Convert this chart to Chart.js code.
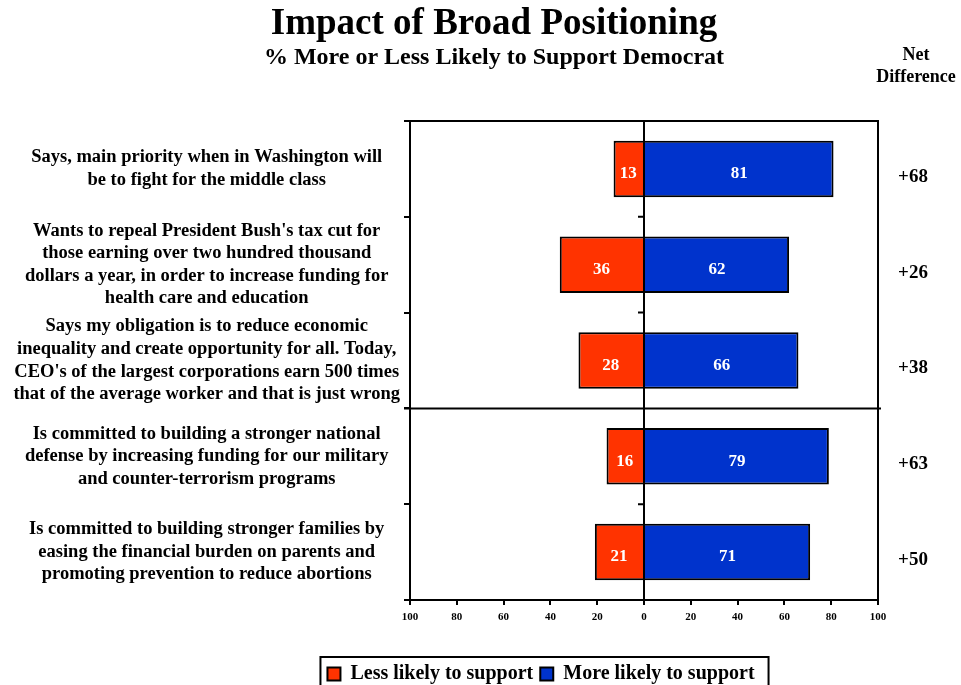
<!DOCTYPE html>
<html>
<head>
<meta charset="utf-8">
<script src="https://cdn.jsdelivr.net/npm/chart.js@4/dist/chart.umd.min.js"></script>
<style>
  html, body { margin: 0; padding: 0; background: #fff; }
  #wrap { width: 961px; height: 685px; position: relative; }
</style>
</head>
<body>
<div id="wrap"><canvas id="chart"></canvas></div>
<script>
const statements = [
  ["Says, main priority when in Washington will", "be to fight for the middle class"],
  ["Wants to repeal President Bush's tax cut for", "those earning over two hundred thousand", "dollars a year, in order to increase funding for", "health care and education"],
  ["Says my obligation is to reduce economic", "inequality and create opportunity for all. Today,", "CEO's of the largest corporations earn 500 times", "that of the average worker and that is just wrong"],
  ["Is committed to building a stronger national", "defense by increasing funding for our military", "and counter-terrorism programs"],
  ["Is committed to building stronger families by", "easing the financial burden on parents and", "promoting prevention to reduce abortions"]
];
const lessLikely = [13, 36, 28, 16, 21];
const moreLikely = [81, 62, 66, 79, 71];
const seriesNames = ["Less likely to support", "More likely to support"];

const serif = "'Liberation Serif', 'Times New Roman', serif";
Chart.defaults.font.family = serif;
Chart.defaults.font.weight = "bold";
Chart.defaults.color = "#000";

const ctx = document.getElementById("chart").getContext("2d");

const extras = {
  id: "extras",
  afterLayout(chart) {
    // put the legend under the middle of the picture, a bit lower
    const lg = chart.legend;
    const shift = 541 - (lg.left + lg.right) / 2;
    lg.left += shift;
    lg.right += shift;
    const h = lg.bottom - lg.top;
    lg.top = 657;
    lg.bottom = lg.top + h;
  },
  afterDatasetsDraw(chart) {
    const c = chart.ctx;
    const area = chart.chartArea;
    const xs = chart.scales.x;
    const ys = chart.scales.y;
    c.save();

    // zero line on top of the bars
    const x0 = xs.getPixelForValue(0);
    c.strokeStyle = "#000";
    c.lineWidth = 2;
    c.beginPath();
    c.moveTo(x0, area.top);
    c.lineTo(x0, area.bottom);
    c.stroke();

    // value labels inside the bars
    c.fillStyle = "#fff";
    c.font = "bold 17px " + serif;
    c.textAlign = "center";
    c.textBaseline = "middle";
    chart.data.datasets.forEach((ds, di) => {
      chart.getDatasetMeta(di).data.forEach((bar, i) => {
        c.fillText(Math.abs(ds.data[i]), (bar.x + bar.base) / 2, bar.y + 5);
      });
    });

    // frame top and right
    c.beginPath();
    c.moveTo(area.left - 6, area.top);
    c.lineTo(area.right, area.top);
    c.lineTo(area.right, area.bottom);
    c.stroke();

    // divider between third and fourth statement
    const yDiv = (ys.getPixelForValue(2) + ys.getPixelForValue(3)) / 2;
    c.beginPath();
    c.moveTo(area.left - 6, yDiv);
    c.lineTo(area.right + 3, yDiv);
    c.stroke();

    // small ticks left of the zero line
    c.beginPath();
    for (let i = 0; i < statements.length - 1; i++) {
      if (i === 2) continue;
      const y = (ys.getPixelForValue(i) + ys.getPixelForValue(i + 1)) / 2;
      c.moveTo(x0 - 6, y);
      c.lineTo(x0, y);
    }
    c.stroke();

    // net difference column
    c.fillStyle = "#000";
    c.font = "bold 19px " + serif;
    statements.forEach((s, i) => {
      const net = moreLikely[i] - lessLikely[i];
      c.fillText((net > 0 ? "+" : "") + net, 913, ys.getPixelForValue(i) + 8);
    });

    // titles
    c.font = "bold 37px " + serif;
    c.fillText("Impact of Broad Positioning", 494, 24);
    c.font = "bold 24px " + serif;
    c.fillText("% More or Less Likely to Support Democrat", 494, 58);
    c.font = "bold 18px " + serif;
    c.fillText("Net", 916, 55);
    c.fillText("Difference", 916, 77);

    // legend border
    const lg = chart.legend;
    const pad = lg.options.labels.padding;
    const lw = lg.lineWidths[0];
    const start = (lg.left + pad + lg.right - lw) / 2;
    c.lineWidth = 2;
    c.strokeRect(start - 7, 657, lw - pad + 21, 40);
    c.restore();
  }
};

const chart = new Chart(ctx, {
  type: "bar",
  data: {
    labels: statements,
    datasets: [{
      label: seriesNames[0],
      data: lessLikely.map(v => -v),
      backgroundColor: "#ff3300",
      borderColor: "#000",
      borderWidth: 2,
      borderSkipped: "start"
    }, {
      label: seriesNames[1],
      data: moreLikely,
      backgroundColor: "#0033cc",
      borderColor: "#000",
      borderWidth: 2,
      borderSkipped: "start"
    }]
  },
  options: {
    indexAxis: "y",
    responsive: true,
    maintainAspectRatio: false,
    animation: false,
    events: [],
    layout: { padding: { top: 121, right: 83, left: 0, bottom: 0 } },
    datasets: { bar: { barPercentage: 0.59, categoryPercentage: 1 } },
    scales: {
      x: {
        stacked: true,
        min: -100,
        max: 100,
        ticks: {
          stepSize: 20,
          font: { size: 11, weight: "bold" },
          padding: 6,
          callback: v => Math.abs(v)
        },
        grid: {
          color: "rgba(0,0,0,0)",
          tickColor: "#000",
          tickLength: 5,
          lineWidth: 2
        },
        border: { color: "#000", width: 2 },
        afterFit(scale) { scale.height = 48; }
      },
      y: {
        stacked: true,
        ticks: {
          font: { size: 18.5, weight: "bold", lineHeight: 1.22 },
          crossAlign: "center",
          padding: 4
        },
        grid: {
          color: "rgba(0,0,0,0)",
          tickColor: "#000",
          tickLength: 6,
          lineWidth: 2
        },
        border: { color: "#000", width: 2 },
        afterFit(scale) { scale.width = 410; }
      }
    },
    plugins: {
      legend: {
        position: "bottom",
        labels: {
          boxWidth: 13,
          boxHeight: 13,
          padding: 7,
          font: { size: 20, weight: "bold" },
          color: "#000"
        }
      },
      tooltip: { enabled: false },
      title: { display: false }
    }
  },
  plugins: [extras]
});
</script>
</body>
</html>
